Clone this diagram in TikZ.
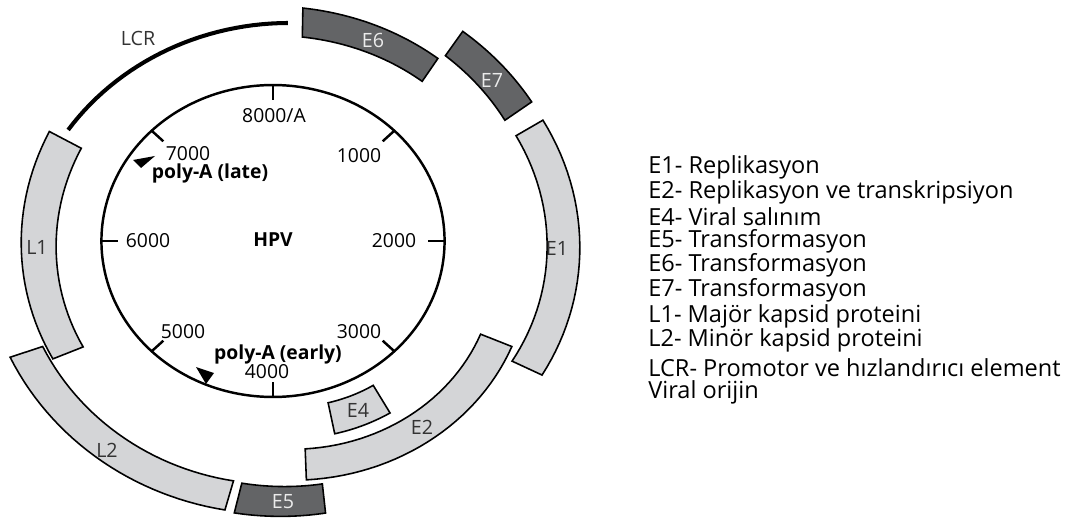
\documentclass[tikz,border=0pt]{standalone}
\usepackage{fontspec}
\setmainfont{Open Sans}
\usetikzlibrary{positioning}

\definecolor{lightgene}{HTML}{D4D5D7}
\definecolor{darkgene}{HTML}{636466}

% band of the gene ring: style, start/end angle, inner/outer radius at start, inner/outer radius at end
\newcommand{\genebox}[7]{%
\draw[#1] plot[domain=#2:#3,samples=30] ({298+1.1*(#5+(#7-#5)*(\x-(#2))/((#3)-(#2)))*cos(\x)},{259+(#5+(#7-#5)*(\x-(#2))/((#3)-(#2)))*sin(\x)})
 -- plot[domain=#3:#2,samples=30] ({298+1.1*(#4+(#6-#4)*(\x-(#2))/((#3)-(#2)))*cos(\x)},{259+(#4+(#6-#4)*(\x-(#2))/((#3)-(#2)))*sin(\x)}) -- cycle;}

\begin{document}
\begin{tikzpicture}[x=0.02cm,y=0.02cm,
  light/.style={draw=black,line width=0.9pt,fill=lightgene},
  dark/.style={draw=black,line width=0.9pt,fill=darkgene},
  lightlabel/.style={font=\fontsize{11.2}{13}\selectfont,text=black!80},
  darklabel/.style={font=\fontsize{11.2}{13}\selectfont,text=black!8},
  tick/.style={font=\fontsize{11}{13}\selectfont},
  legend/.style={anchor=west,inner sep=0pt,font=\fontsize{13.4}{15}\selectfont}]
\useasboundingbox (0,0) rectangle (1077,521);

% outer ring
\genebox{light}{150}{203.5}{227.5}{261}{213}{243}
\genebox{light}{200}{255}{247}{278.5}{226.6}{256.7}
\genebox{dark}{58}{89}{213}{240}{225}{254}
\genebox{dark}{37}{57}{235.5}{266}{246}{275}
\genebox{light}{-27}{32.5}{218.4}{249}{235}{264}
\genebox{light}{-88}{-23.5}{187}{218}{181}{212}
\genebox{light}{-79}{-61}{143.4}{175}{141}{172.6}
\genebox{dark}{-103}{-84.3}{227}{257.5}{223}{252.3}
\draw[line width=2.3pt] plot[domain=92.2:147.7,samples=30] ({298+1.1*(239.2+8*(\x-92.2)/55.5)*cos(\x)},{259+(239.2+8*(\x-92.2)/55.5)*sin(\x)});

\node[lightlabel] at (37,274) (L1) {L1};
\node[lightlabel] at (107,71) (L2) {L2};
\node[darklabel] at (373,481) (E6) {E6};
\node[darklabel] at (492,441) (E7) {E7};
\node[lightlabel] at (557,273) (E1) {E1};
\node[lightlabel] at (422,94) (E2) {E2};
\node[lightlabel] at (358,111) (E4) {E4};
\node[darklabel] at (283,19) (E5) {E5};
\node[lightlabel] at (138,483) (LCR) {LCR};

% genome circle
\draw[line width=1.4pt] (273,280) ellipse [x radius=3.432cm, y radius=3.12cm];
\foreach \a in {0,45,...,315}
  \draw[line width=1.4pt] ({273+171.6*cos(\a)},{280+156*sin(\a)}) -- ({273+155.1*cos(\a)},{280+141*sin(\a)});
\fill (133,361) -- (155,365) -- (141,353) -- cycle;
\fill (196,154) -- (214,148) -- (206,137) -- cycle;

\node[tick] at (274,405) (t8000) {8000/A};
\node[tick] at (188,367) (t7000) {7000};
\node[tick] at (359,365) (t1000) {1000};
\node[tick] at (148,280) (t6000) {6000};
\node[tick] at (394,280) (t2000) {2000};
\node[tick] at (183,189) (t5000) {5000};
\node[tick] at (359,189) (t3000) {3000};
\node[tick] at (267,149) (t4000) {4000};
\node[tick,font=\fontsize{11}{13}\selectfont\bfseries] at (273,281) (hpv) {HPV};
\node[tick,font=\fontsize{11}{13}\selectfont\bfseries] at (210,348) (late) {poly-A (late)};
\node[tick,font=\fontsize{11}{13}\selectfont\bfseries] at (278,167) (early) {poly-A (early)};

% legend
\node[legend] at (648,354) (leg1) {E1- Replikasyon};
\node[legend] at (648,329) (leg2) {E2- Replikasyon ve transkripsiyon};
\node[legend] at (648,304) (leg3) {E4- Viral salınım};
\node[legend] at (648,280) (leg4) {E5- Transformasyon};
\node[legend] at (648,256) (leg5) {E6- Transformasyon};
\node[legend] at (648,231) (leg6) {E7- Transformasyon};
\node[legend] at (648,205) (leg7) {L1- Majör kapsid proteini};
\node[legend] at (648,181) (leg8) {L2- Minör kapsid proteini};
\node[legend] at (648,153) (leg9) {LCR- Promotor ve hızlandırıcı element};
\node[legend] at (648,129) (leg10) {Viral orijin};
\end{tikzpicture}
\end{document}
